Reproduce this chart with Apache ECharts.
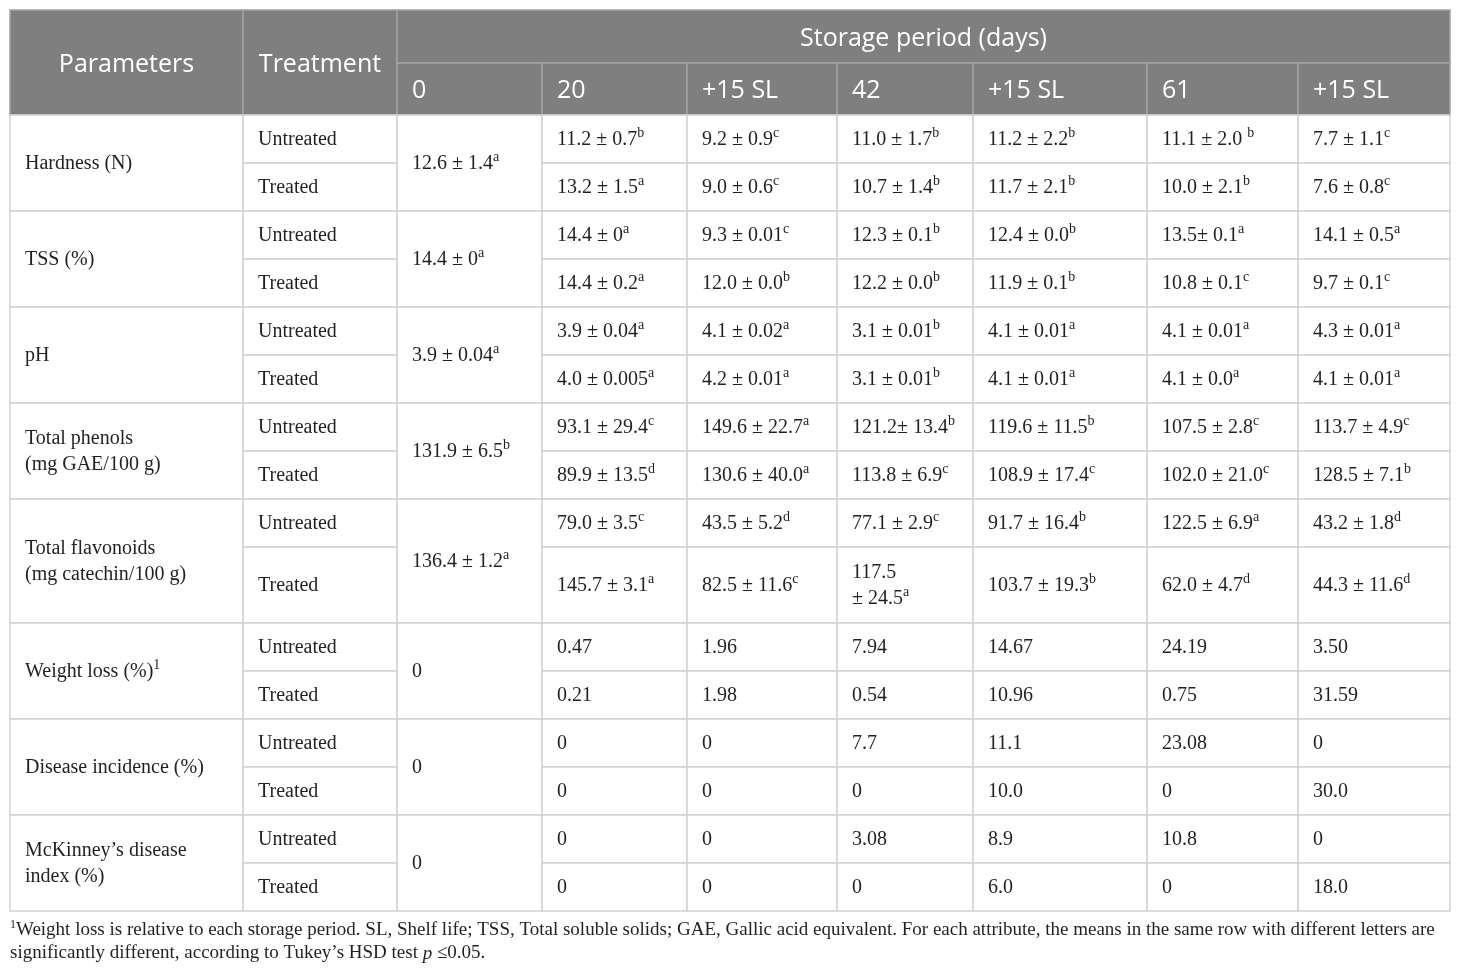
<!DOCTYPE html>
<html lang="en">
<head>
<meta charset="UTF-8" />
<title>Storage period table</title>
<script src="https://cdn.jsdelivr.net/npm/echarts@6/dist/echarts.min.js"></script>
<style>
    html, body { margin: 0; background: #fff; }
    #main { width: 1460px; height: 974px; }
</style>
</head>
<body>
<div id="main"></div>
<script>
// ---- table content (^x marks a superscript) ----
var periods = ['0', '20', '+15 SL', '42', '+15 SL', '61', '+15 SL'];
var treatments = ['Untreated', 'Treated'];
var parameters = ['Hardness (N)', 'TSS (%)', 'pH', 'Total phenols\n(mg GAE/100 g)',
    'Total flavonoids\n(mg catechin/100 g)', 'Weight loss (%)^1', 'Disease incidence (%)',
    'McKinney’s disease\nindex (%)'];
var day0 = ['12.6 ± 1.4^a', '14.4 ± 0^a', '3.9 ± 0.04^a', '131.9 ± 6.5^b', '136.4 ± 1.2^a', '0', '0', '0'];

var hardnessUntreated = ['11.2 ± 0.7^b', '9.2 ± 0.9^c', '11.0 ± 1.7^b', '11.2 ± 2.2^b', '11.1 ± 2.0 ^b', '7.7 ± 1.1^c'];
var hardnessTreated   = ['13.2 ± 1.5^a', '9.0 ± 0.6^c', '10.7 ± 1.4^b', '11.7 ± 2.1^b', '10.0 ± 2.1^b', '7.6 ± 0.8^c'];
var tssUntreated = ['14.4 ± 0^a', '9.3 ± 0.01^c', '12.3 ± 0.1^b', '12.4 ± 0.0^b', '13.5± 0.1^a', '14.1 ± 0.5^a'];
var tssTreated   = ['14.4 ± 0.2^a', '12.0 ± 0.0^b', '12.2 ± 0.0^b', '11.9 ± 0.1^b', '10.8 ± 0.1^c', '9.7 ± 0.1^c'];
var phUntreated = ['3.9 ± 0.04^a', '4.1 ± 0.02^a', '3.1 ± 0.01^b', '4.1 ± 0.01^a', '4.1 ± 0.01^a', '4.3 ± 0.01^a'];
var phTreated   = ['4.0 ± 0.005^a', '4.2 ± 0.01^a', '3.1 ± 0.01^b', '4.1 ± 0.01^a', '4.1 ± 0.0^a', '4.1 ± 0.01^a'];
var phenolsUntreated = ['93.1 ± 29.4^c', '149.6 ± 22.7^a', '121.2± 13.4^b', '119.6 ± 11.5^b', '107.5 ± 2.8^c', '113.7 ± 4.9^c'];
var phenolsTreated   = ['89.9 ± 13.5^d', '130.6 ± 40.0^a', '113.8 ± 6.9^c', '108.9 ± 17.4^c', '102.0 ± 21.0^c', '128.5 ± 7.1^b'];
var flavonoidsUntreated = ['79.0 ± 3.5^c', '43.5 ± 5.2^d', '77.1 ± 2.9^c', '91.7 ± 16.4^b', '122.5 ± 6.9^a', '43.2 ± 1.8^d'];
var flavonoidsTreated   = ['145.7 ± 3.1^a', '82.5 ± 11.6^c', '117.5\n± 24.5^a', '103.7 ± 19.3^b', '62.0 ± 4.7^d', '44.3 ± 11.6^d'];
var weightLossUntreated = ['0.47', '1.96', '7.94', '14.67', '24.19', '3.50'];
var weightLossTreated   = ['0.21', '1.98', '0.54', '10.96', '0.75', '31.59'];
var diseaseUntreated = ['0', '0', '7.7', '11.1', '23.08', '0'];
var diseaseTreated   = ['0', '0', '0', '10.0', '0', '30.0'];
var mckinneyUntreated = ['0', '0', '3.08', '8.9', '10.8', '0'];
var mckinneyTreated   = ['0', '0', '0', '6.0', '0', '18.0'];

var rows = [
    [hardnessUntreated, hardnessTreated],
    [tssUntreated, tssTreated],
    [phUntreated, phTreated],
    [phenolsUntreated, phenolsTreated],
    [flavonoidsUntreated, flavonoidsTreated],
    [weightLossUntreated, weightLossTreated],
    [diseaseUntreated, diseaseTreated],
    [mckinneyUntreated, mckinneyTreated]
];

var footLine1 = 'Weight loss is relative to each storage period. SL, Shelf life; TSS, Total soluble solids; GAE, Gallic acid equivalent. For each attribute, the means in the same row with different letters are';
var footLine2 = 'significantly different, according to Tukey’s HSD test ';

// ---- layout ----
var colWidths = [233, 154, 145, 145, 150, 136, 174, 151, 152];
var headHeights = [53, 52];
var rowHeights = [[48, 48], [48, 48], [48, 48], [48, 48], [48, 76], [48, 48], [48, 48], [48, 48]];

var colEdges = [0];
colWidths.forEach(function (w) { colEdges.push(colEdges[colEdges.length - 1] + w); });
var tableW = colEdges[colEdges.length - 1];

var cells = [];
function addCell(c0, c1, y0, y1, text, kind, align) {
    cells.push({ x0: colEdges[c0], x1: colEdges[c1], y0: y0, y1: y1, text: text, kind: kind, align: align });
}

// header
var hMid = headHeights[0], hEnd = headHeights[0] + headHeights[1];
addCell(0, 1, 0, hEnd, 'Parameters', 'head', 'center');
addCell(1, 2, 0, hEnd, 'Treatment', 'head', 'center');
addCell(2, 9, 0, hMid, 'Storage period (days)', 'head', 'center');
periods.forEach(function (p, i) { addCell(2 + i, 3 + i, hMid, hEnd, p, 'head', 'left'); });

// body
var y = hEnd;
parameters.forEach(function (name, pi) {
    var h = rowHeights[pi];
    addCell(0, 1, y, y + h[0] + h[1], name, 'body', 'left');
    addCell(2, 3, y, y + h[0] + h[1], day0[pi], 'body', 'left');
    var ry = y;
    treatments.forEach(function (t, ti) {
        addCell(1, 2, ry, ry + h[ti], t, 'body', 'left');
        rows[pi][ti].forEach(function (v, k) {
            addCell(3 + k, 4 + k, ry, ry + h[ti], v, 'body', 'left');
        });
        ry += h[ti];
    });
    y += h[0] + h[1];
});
var tableH = y;

// "12.6 ± 1.4^a" -> rich text tokens
function toRich(s) {
    return s.split('\n').map(function (line) {
        var parts = line.split(/\^(\w)/);
        var out = '';
        parts.forEach(function (p, i) {
            if (p === '') return;
            out += (i % 2 ? '{s|' : '{n|') + p + '}';
        });
        return out;
    }).join('\n');
}

var serif = '"Liberation Serif", "Times New Roman", serif';
var sans = '"Open Sans", "Noto Sans", sans-serif';
var headRich = {
    n: { fontFamily: sans, fontSize: 25, fill: '#ffffff', lineHeight: 30 }
};
var bodyRich = {
    n: { fontFamily: serif, fontSize: 20, fill: '#231f20', lineHeight: 26 },
    s: { fontFamily: serif, fontSize: 14, fill: '#231f20', lineHeight: 17, verticalAlign: 'top' }
};

function renderItem(params, api) {
    var c = cells[api.value(4)];
    var p0 = api.coord([api.value(0), api.value(2)]);
    var p1 = api.coord([api.value(1), api.value(3)]);
    var head = c.kind === 'head';
    var tx = c.align === 'center' ? (p0[0] + p1[0]) / 2 : p0[0] + 15;
    return {
        type: 'group',
        children: [
            {
                type: 'rect',
                shape: { x: p0[0], y: p0[1], width: p1[0] - p0[0], height: p1[1] - p0[1] },
                style: { fill: head ? '#7f7f7f' : '#ffffff', stroke: head ? '#a2a2a2' : '#d2d2d2', lineWidth: 1.5 }
            },
            {
                type: 'text',
                x: tx,
                y: (p0[1] + p1[1]) / 2 + (head ? 2 : 0.5),
                style: {
                    text: toRich(c.text),
                    rich: head ? headRich : bodyRich,
                    align: c.align,
                    verticalAlign: 'middle'
                }
            }
        ]
    };
}

var chart = echarts.init(document.getElementById('main'));
chart.setOption({
    animation: false,
    grid: { left: 10, top: 10, width: tableW, height: tableH },
    xAxis: { type: 'value', min: 0, max: tableW, show: false },
    yAxis: { type: 'value', min: 0, max: tableH, inverse: true, show: false },
    series: [{
        type: 'custom',
        renderItem: renderItem,
        encode: { x: [0, 1], y: [2, 3] },
        data: cells.map(function (c, i) { return [c.x0, c.x1, c.y0, c.y1, i]; })
    }],
    graphic: [
        {
            type: 'text',
            left: 10,
            top: 919,
            style: {
                text: '{s|1}{n|' + footLine1 + '}',
                rich: {
                    n: { fontFamily: serif, fontSize: 19, fill: '#231f20', lineHeight: 22 },
                    s: { fontFamily: serif, fontSize: 12, fill: '#231f20', lineHeight: 14, verticalAlign: 'top' }
                }
            }
        },
        {
            type: 'text',
            left: 10,
            top: 944,
            style: {
                text: '{n|' + footLine2 + '}{i|p}{n| ≤0.05.}',
                rich: {
                    n: { fontFamily: serif, fontSize: 19, fill: '#231f20', lineHeight: 22 },
                    i: { fontFamily: serif, fontSize: 19, fontStyle: 'italic', fill: '#231f20', lineHeight: 22 }
                }
            }
        }
    ]
});
</script>
</body>
</html>
